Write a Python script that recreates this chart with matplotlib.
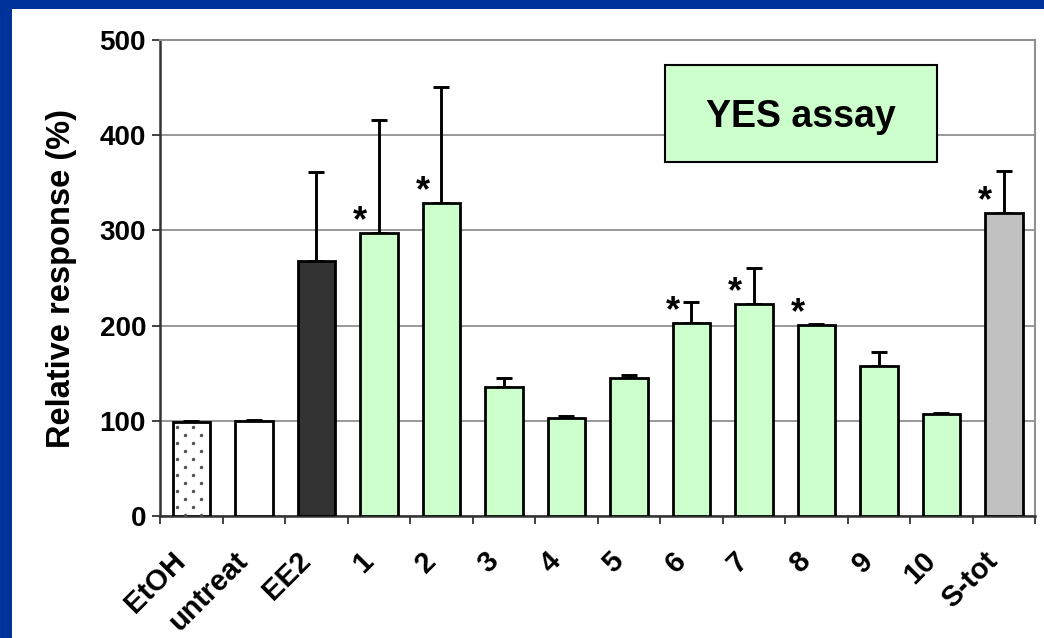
import numpy as np
import matplotlib.pyplot as plt
from matplotlib.patches import Rectangle
from matplotlib.transforms import ScaledTranslation

plt.rcParams['font.family'] = ['Liberation Sans', 'DejaVu Sans']
plt.rcParams['font.weight'] = 'bold'

# data
labels = ['EtOH', 'untreat', 'EE2', '1', '2', '3', '4', '5', '6', '7', '8',
          '9', '10', 'S-tot']
values = [99, 100, 268, 297, 329, 136, 103, 145, 203, 223, 201, 158, 107, 318]
errors = [1, 0.5, 93, 119, 122, 9, 2, 3, 22, 37, 0.5, 14, 1, 44]
significant = [False, False, False, True, True, False, False, False,
               True, True, True, False, False, True]
colors = ['white', 'white', '#333333'] + ['#CCFFCC'] * 10 + ['#C0C0C0']
yticks = [0, 100, 200, 300, 400, 500]

fig = plt.figure(figsize=(10.44, 6.38), dpi=100)
fig.patch.set_facecolor('white')

# blue slide frame (left and top)
fig.patches.append(Rectangle((0, 0), 12 / 1044, 1, transform=fig.transFigure,
                             facecolor='#003399', edgecolor='none', zorder=0))
fig.patches.append(Rectangle((0, 1 - 9 / 638), 1, 9 / 638, transform=fig.transFigure,
                             facecolor='#003399', edgecolor='none', zorder=0))

ax = fig.add_axes([160 / 1044, 1 - 516 / 638, 875 / 1044, 476 / 638])
x = np.arange(len(labels))
bar_w = 0.6

ax.set_xlim(-0.5, len(labels) - 0.5)
ax.set_ylim(0, 500)

bars = ax.bar(x, values, width=bar_w, color=colors, edgecolor='black',
              linewidth=2.0, zorder=3)

# dotted fill for the EtOH bar (staggered grey dots, 16 px apart, rows 8 px apart)
px_x = ax.transData.transform((1, 0))[0] - ax.transData.transform((0, 0))[0]
px_y = ax.transData.transform((0, 100))[1] - ax.transData.transform((0, 0))[1]
step_x = 16 / px_x
step_y = 8 / (px_y / 100)
left = x[0] - bar_w / 2
dots_x, dots_y = [], []
row = 0
yy = values[0] - step_y * 0.7
while yy > 0:
    xx = left + step_x * (0.28 if row % 2 == 0 else 0.78)
    while xx < left + bar_w - step_x * 0.2:
        dots_x.append(xx)
        dots_y.append(yy)
        xx += step_x
    yy -= step_y
    row += 1
ax.scatter(dots_x, dots_y, s=6, color='#505050', linewidths=0, zorder=4)

ax.errorbar(x, values, yerr=[np.zeros(len(errors)), errors], fmt='none',
            ecolor='black', elinewidth=2.1, capsize=5.5, capthick=2.1, zorder=2)

for xi, v, s in zip(x, values, significant):
    if s:
        ax.text(xi - 0.3, v + 2, '*', ha='center', va='baseline',
                fontsize=26, fontweight='bold', zorder=4)

ax.set_yticks(yticks)
ax.set_yticklabels([str(t) for t in yticks], fontsize=20, fontweight='bold')
ax.yaxis.grid(True, color='#909090', linewidth=1.3, zorder=0)
ax.set_axisbelow(True)

ax.set_xticks(x)
ax.set_xticklabels(labels, rotation=45, ha='right', va='top',
                   fontsize=21, fontweight='bold')
shift = ScaledTranslation(-8 / 100, 0, fig.dpi_scale_trans)
for lab in ax.get_xticklabels():
    lab.set_transform(lab.get_transform() + shift)
ax.set_xticks(np.arange(len(labels) + 1) - 0.5, minor=True)
ax.tick_params(axis='x', which='major', length=0, pad=22)
ax.tick_params(axis='x', which='minor', length=6, width=1.3, color='#333333')
ax.tick_params(axis='y', length=6, width=1.3, color='#333333', pad=4)

ax.set_ylabel('Relative response (%)', fontsize=23.5, fontweight='bold', labelpad=16)

for side in ['top', 'right']:
    ax.spines[side].set_color('#909090')
    ax.spines[side].set_linewidth(1.5)
ax.spines['left'].set_color('#333333')
ax.spines['left'].set_linewidth(1.8)
ax.spines['bottom'].set_color('#333333')
ax.spines['bottom'].set_linewidth(1.8)

# title box
ax.text(0.7325, 0.839, 'YES assay', transform=ax.transAxes, ha='center',
        va='center', fontsize=27, fontweight='bold', zorder=5)
ax.add_patch(Rectangle((0.577, 0.7437), 0.311, 0.2038, transform=ax.transAxes,
                       facecolor='#CCFFCC', edgecolor='black', linewidth=1.5,
                       zorder=4))

fig.savefig('out.png', dpi=100)
